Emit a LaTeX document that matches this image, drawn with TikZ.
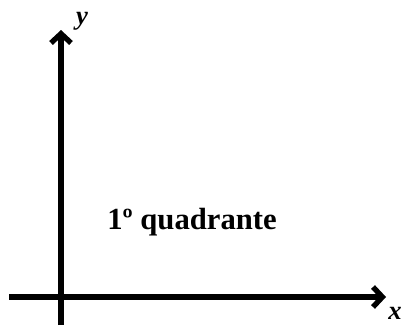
\documentclass[tikz,border=0pt]{standalone}
\usepackage{fontspec}
\setmainfont{Liberation Serif}
\usetikzlibrary{arrows.meta}
\begin{document}
\begin{tikzpicture}[x=0.75pt,y=-0.75pt,
  axis/.style={line width=4pt,-{Straight Barb[length=7pt,width=15pt,line join=miter]}},
  lbl/.style={font=\bfseries\itshape\fontsize{20}{20}\selectfont,inner sep=0pt}]
\useasboundingbox (0,0) rectangle (403,325);
\coordinate (xs) at (9,297);
\coordinate (xe) at (386,297);
\coordinate (ys) at (61,325);
\coordinate (ye) at (61,30);
\draw[axis] (xs) -- (xe);
\draw[axis] (ys) -- (ye);
\node[lbl] (ylab) at (82,21) {y};
\node[lbl] (xlab) at (395,313) {x};
\node[font=\bfseries\fontsize{23}{23}\selectfont,inner sep=0pt] (q) at (192,222) {1º quadrante};
\end{tikzpicture}
\end{document}
